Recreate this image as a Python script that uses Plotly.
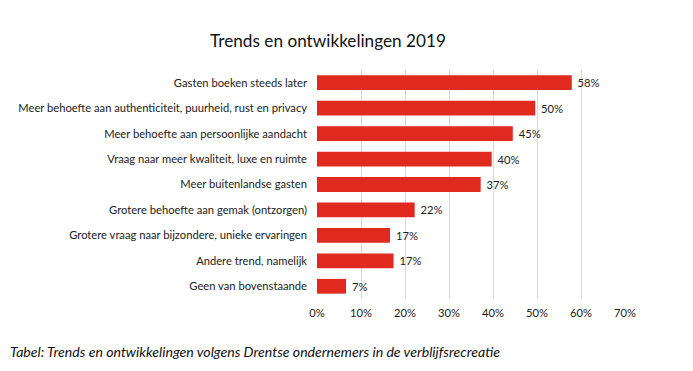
import plotly.graph_objects as go

categories = [
    "Gasten boeken steeds later",
    "Meer behoefte aan authenticiteit, puurheid, rust en privacy",
    "Meer behoefte aan persoonlijke aandacht",
    "Vraag naar meer kwaliteit, luxe en ruimte",
    "Meer buitenlandse gasten",
    "Grotere behoefte aan gemak (ontzorgen)",
    "Grotere vraag naar bijzondere, unieke ervaringen",
    "Andere trend, namelijk",
    "Geen van bovenstaande",
]
values = [57.9, 49.6, 44.5, 39.7, 37.2, 22.2, 16.6, 17.4, 6.6]
labels = ["58%", "50%", "45%", "40%", "37%", "22%", "17%", "17%", "7%"]
tick_vals = [0, 10, 20, 30, 40, 50, 60, 70]
tick_text = ["0%", "10%", "20%", "30%", "40%", "50%", "60%", "70%"]

FONT = "Lato"
# the page body has an 8px margin, so figure coords = screen coords - 8
OFF = 8
L, R_EDGE, T, B_EDGE = 317 - OFF, 625 - OFF, 69.5 - OFF, 299.5 - OFF
W, H = 693, 371

fig = go.Figure(go.Bar(
    x=values, y=categories, orientation="h",
    marker=dict(color="rgb(224,42,32)", line=dict(width=0)),
    text=labels, texttemplate=" %{text}", textposition="outside", cliponaxis=False,
    textfont=dict(size=11.2, color="#222", family=FONT),
    width=0.58,
))

fig.update_layout(
    width=W, height=H,
    margin=dict(l=L, r=W - R_EDGE, t=T, b=H - B_EDGE, autoexpand=False),
    paper_bgcolor="white", plot_bgcolor="white",
    font=dict(family=FONT, size=11.2, color="#222"),
    showlegend=False,
    title=dict(text="Trends en ontwikkelingen 2019", x=(328 - OFF) / W, xanchor="center",
               y=1 - (41 - OFF) / H, yanchor="middle",
               font=dict(size=17.2, family=FONT, color="#111")),
    xaxis=dict(range=[0, 70], tickvals=tick_vals, ticktext=tick_text,
               showgrid=True, gridcolor="#d9d9d9", gridwidth=1,
               zeroline=False, showline=False, ticks="",
               tickfont=dict(size=11.2, family=FONT, color="#222"),
               ticklabelstandoff=6, fixedrange=True, automargin=False),
    yaxis=dict(categoryorder="array", categoryarray=categories[::-1],
               showgrid=False, zeroline=False, showline=False, ticks="",
               tickfont=dict(size=11.2, family=FONT, color="#222"),
               ticklabelstandoff=9, fixedrange=True, automargin=False),
    annotations=[dict(
        text="<i>Tabel: Trends en ontwikkelingen volgens Drentse ondernemers in de verblijfsrecreatie</i>",
        xref="paper", yref="paper",
        x=(8 - OFF - L) / (R_EDGE - L), y=-(352 - 299.5) / (B_EDGE - T),
        xanchor="left", yanchor="middle",
        showarrow=False, font=dict(size=14.1, family=FONT, color="#111"))],
)

fig.write_html("out.html")
